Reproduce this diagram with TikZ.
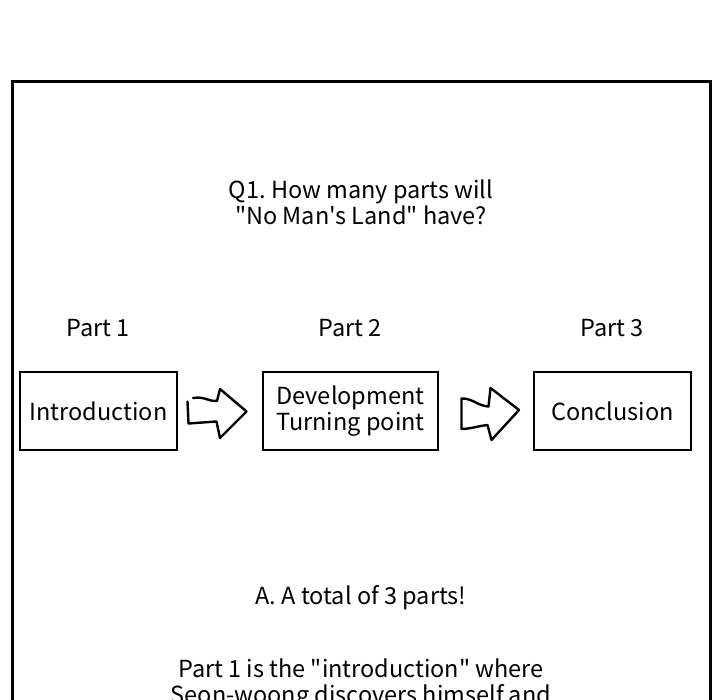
\documentclass[tikz,border=0pt]{standalone}
\usepackage{fontspec}
\newfontfamily\notofont{Noto Sans CJK KR}
\usetikzlibrary{positioning}
\frenchspacing
\tikzset{txt/.style={
    font=\notofont\fontsize{23.5}{26}\selectfont,
    align=center,
    inner sep=0pt},
  partbox/.style={
    txt,
    draw=black,
    line width=2.2pt,
    minimum height=78pt},
  fleche/.style={
    line width=2.4pt,
    line join=round,
    line cap=round}}

\begin{document}
\begin{tikzpicture}[x=1pt, y=-1pt]

\useasboundingbox (0,0) rectangle (720,700);
\fill[white] (0,0) rectangle (720,700);

% cadre
\draw[line width=3pt] (12,730) -- (12,82) -- (710,82) -- (710,730);

\coordinate (I) at (98.5,411);
\coordinate (D) at (350.5,411);
\coordinate (C) at (612.5,411);

\node[txt, anchor=base] (q1) at (361,225) {Q1. How many parts will\\"No Man's Land" have?};

\node[partbox,
  minimum width=157pt] (intro) at (I) {Introduction};

\node[partbox,
  minimum width=175pt] (dev) at (D) {Development\\Turning point};

\node[partbox,
  minimum width=157pt] (concl) at (C) {Conclusion};

\node[txt, anchor=base] (p1) at (98,337) {Part 1};
\node[txt, anchor=base] (p2) at (350,337) {Part 2};
\node[txt, anchor=base] (p3) at (612,337) {Part 3};

% fleches
\draw[fleche] (193,398) .. controls (204,396) and (210,402) .. (217,401)
  -- (220,389) -- (246.5,411.5) -- (220,438) -- (216.5,421.5)
  -- (188.5,423.5) -- (187.5,401.5);

\draw[fleche] (461.5,398.5) .. controls (472,398) and (478,406) .. (488.5,406.5)
  -- (490.5,388) -- (519,410) -- (491.5,440) -- (487.5,425)
  .. controls (478,426) and (470,429) .. (461.5,429) -- cycle;

\node[txt, anchor=base] (rep) at (361,604) {A. A total of 3 parts!};

\node[txt, anchor=base] (expl) at (361,703) {Part 1 is the "introduction" where\\Seon-woong discovers himself and};

\end{tikzpicture}
\end{document}
